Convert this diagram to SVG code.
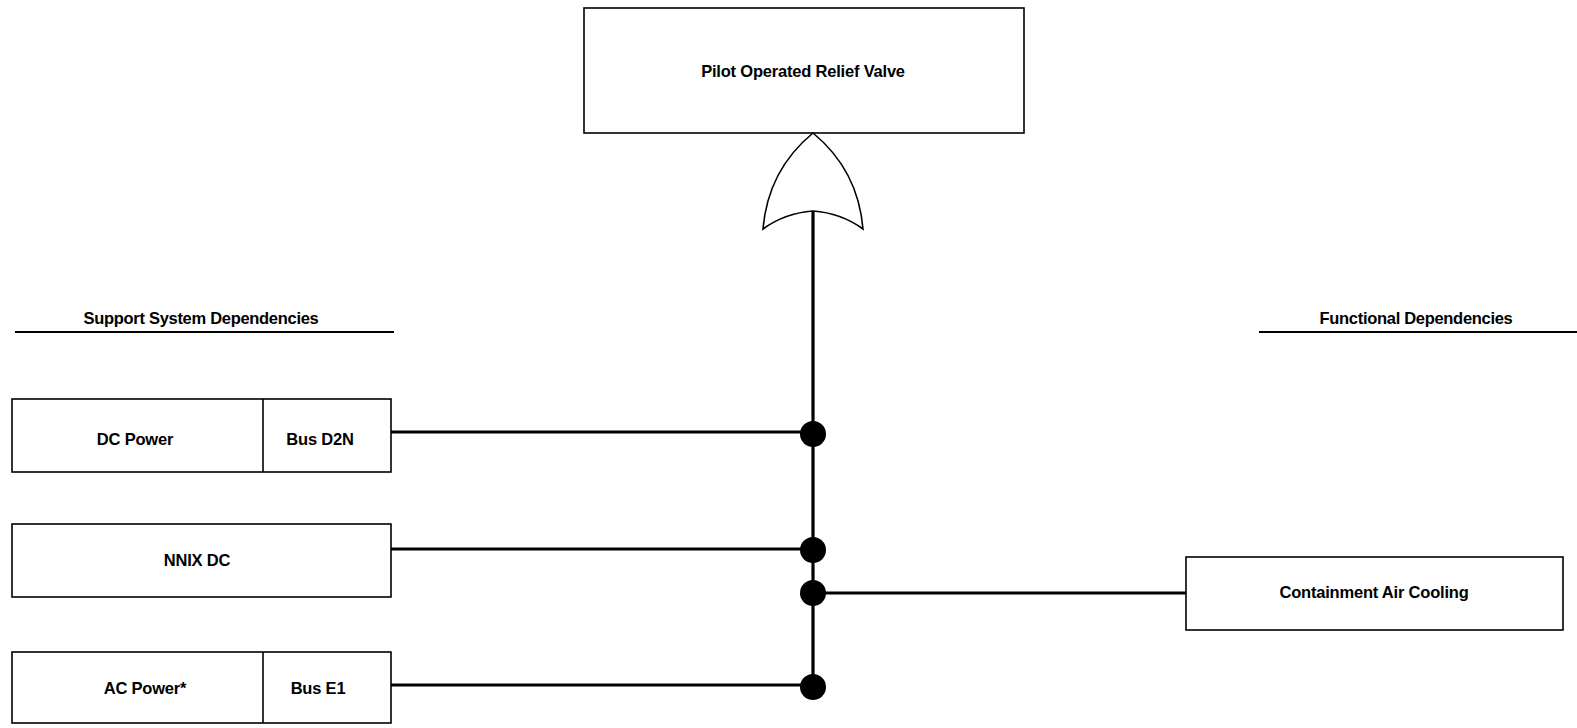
<svg xmlns="http://www.w3.org/2000/svg" width="1577" height="728" viewBox="0 0 1577 728">
  <style>
    .box { fill: #fff; stroke: #000; stroke-width: 1.6; }
    .lbl { font-family: "Liberation Sans", Arial, sans-serif; font-weight: bold; font-size: 16.5px; text-anchor: middle; fill: #000; letter-spacing: -0.2px; }
    .hdr { font-family: "Liberation Sans", Arial, sans-serif; font-weight: bold; font-size: 16.5px; text-anchor: middle; fill: #000; letter-spacing: -0.3px; }
    .rule { stroke: #000; stroke-width: 2; }
    .wire { stroke: #000; stroke-width: 3.2; fill: none; }
    .dot { fill: #000; }
  </style>
  <rect width="1577" height="728" fill="#fff"/>

  <!-- section headings -->
  <g id="hdr-support">
    <text class="hdr" x="201" y="324">Support System Dependencies</text>
    <line class="rule" x1="15" y1="332" x2="394" y2="332"/>
  </g>
  <g id="hdr-functional">
    <text class="hdr" x="1416" y="324">Functional Dependencies</text>
    <line class="rule" x1="1259" y1="332" x2="1577" y2="332"/>
  </g>

  <!-- connectors -->
  <g id="connectors">
    <line class="wire" x1="813" y1="211" x2="813" y2="687"/>
    <line class="wire" x1="391" y1="432" x2="813" y2="432"/>
    <line class="wire" x1="391" y1="549" x2="813" y2="549"/>
    <line class="wire" x1="813" y1="593" x2="1186" y2="593"/>
    <line class="wire" x1="391" y1="685" x2="813" y2="685"/>
    <circle class="dot" cx="813" cy="434" r="13"/>
    <circle class="dot" cx="813" cy="550" r="13"/>
    <circle class="dot" cx="813" cy="593" r="13"/>
    <circle class="dot" cx="813" cy="687" r="13"/>
  </g>

  <!-- top event -->
  <g id="top-event">
    <rect class="box" x="584" y="8" width="440" height="125"/>
    <text class="lbl" x="803" y="77">Pilot Operated Relief Valve</text>
  </g>

  <!-- OR gate -->
  <g id="or-gate">
    <path class="box" d="M813,133 Q768,170 763,229 Q785,213 813,211 Q841,213 863,229 Q858,170 813,133 Z"/>
  </g>

  <g id="dc-power">
    <rect class="box" x="12" y="399" width="379" height="73"/>
    <line class="box" x1="263" y1="399" x2="263" y2="472"/>
    <text class="lbl" x="135" y="445">DC Power</text>
    <text class="lbl" x="320" y="445">Bus D2N</text>
  </g>

  <g id="nnix-dc">
    <rect class="box" x="12" y="524" width="379" height="73"/>
    <text class="lbl" x="197" y="566">NNIX DC</text>
  </g>

  <g id="ac-power">
    <rect class="box" x="12" y="652" width="379" height="71"/>
    <line class="box" x1="263" y1="652" x2="263" y2="723"/>
    <text class="lbl" x="145" y="694">AC Power*</text>
    <text class="lbl" x="318" y="694">Bus E1</text>
  </g>

  <g id="containment-air-cooling">
    <rect class="box" x="1186" y="557" width="377" height="73"/>
    <text class="lbl" x="1374" y="598">Containment Air Cooling</text>
  </g>
</svg>
